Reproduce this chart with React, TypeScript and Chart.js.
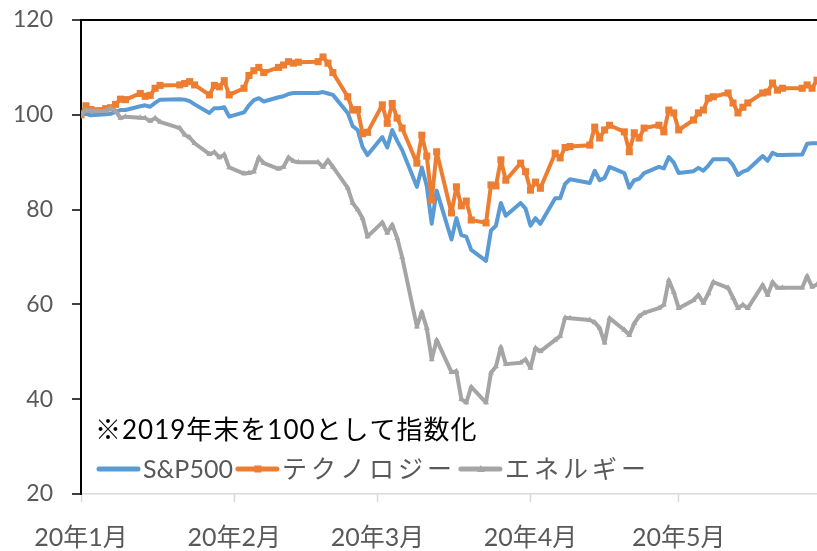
import React, { useEffect, useRef } from "react";
import { Chart, registerables } from "chart.js";
Chart.register(...registerables);

// Day offsets from 2020-01-01 (trading days); first point = 2019 year-end base
const tradingDays = [0,
  1, 2, 5, 6, 7, 8, 9, 12, 13, 14, 15, 16, 20, 21, 22, 23, 26, 27, 28, 29, 30,
  33, 34, 35, 36, 37, 40, 41, 42, 43, 44, 48, 49, 50, 51, 54, 55, 56, 57, 58,
  61, 62, 63, 64, 65, 68, 69, 70, 71, 72, 75, 76, 77, 78, 79, 82, 83, 84, 85, 86, 89, 90,
  91, 92, 93, 96, 97, 98, 99, 103, 104, 105, 106, 107, 110, 111, 112, 113, 114, 117, 118, 119, 120,
  121, 124, 125, 126, 127, 128, 131, 132, 133, 134, 135, 138, 139, 140, 141, 142, 146, 147, 148, 149];

const sp500 = [100,
  100.2, 99.9, 100.1, 100.2, 100.6, 101.0, 101.0, 101.8, 102.0, 101.7, 102.5, 103.2, 103.3, 103.2, 102.9, 102.2, 100.4, 101.4, 101.4, 101.6, 99.6,
  100.5, 102.0, 103.1, 103.5, 102.8, 103.7, 103.9, 104.4, 104.6, 104.6, 104.6, 104.8, 104.5, 104.2, 100.4, 97.6, 96.8, 93.2, 91.5,
  95.3, 93.1, 96.8, 94.5, 92.6, 84.8, 88.9, 85.0, 77.0, 84.0, 73.7, 78.2, 74.6, 74.3, 71.5, 69.2, 75.6, 76.6, 81.4, 78.7, 81.4, 80.2,
  76.6, 78.2, 77.0, 82.4, 82.4, 85.4, 86.4, 85.6, 88.2, 86.2, 86.7, 89.0, 87.7, 84.6, 86.2, 86.5, 87.7, 89.0, 88.7, 91.1, 89.9,
  87.7, 88.1, 88.8, 88.2, 89.3, 90.6, 90.6, 89.4, 87.3, 88.0, 88.4, 91.3, 90.3, 92.0, 91.5, 91.5, 91.6, 93.9, 94.0, 94.0];

const technology = [100,
  101.9, 101.1, 101.3, 101.5, 102.2, 103.3, 103.2, 104.5, 103.9, 104.1, 105.6, 106.2, 106.3, 106.6, 107.0, 106.3, 104.2, 106.2, 105.9, 107.2, 104.2,
  105.6, 108.3, 109.3, 110.0, 108.9, 110.0, 110.5, 111.2, 110.9, 111.1, 111.2, 112.2, 110.9, 108.9, 103.8, 101.0, 101.1, 96.0, 96.3,
  102.1, 98.2, 102.4, 99.3, 97.2, 89.8, 95.7, 91.3, 82.0, 92.2, 79.3, 84.8, 80.8, 81.8, 77.8, 77.2, 85.2, 85.0, 90.5, 86.2, 89.8, 88.0,
  84.1, 85.8, 84.5, 91.9, 90.9, 93.1, 93.3, 93.6, 97.4, 95.1, 96.8, 97.8, 96.4, 92.2, 96.2, 95.1, 97.2, 97.8, 96.4, 101.0, 100.4,
  96.8, 98.9, 100.4, 101.0, 103.5, 103.8, 104.6, 102.5, 100.4, 101.6, 102.5, 104.6, 104.8, 106.7, 105.2, 105.6, 105.6, 106.3, 105.6, 107.3];

const energy = [100,
  101.0, 100.8, 100.8, 101.4, 100.8, 99.3, 99.6, 99.4, 99.3, 98.7, 99.3, 98.5, 97.2, 95.8, 95.2, 94.0, 91.7, 92.1, 91.0, 91.6, 88.9,
  87.6, 87.7, 88.0, 91.0, 89.8, 88.6, 89.0, 91.0, 90.2, 90.0, 90.0, 89.0, 90.4, 89.0, 84.6, 81.4, 80.0, 78.2, 74.3,
  77.3, 75.1, 76.8, 74.0, 70.0, 55.3, 58.4, 55.0, 48.4, 52.5, 45.7, 45.9, 40.0, 39.3, 42.6, 39.3, 45.6, 46.9, 51.0, 47.4, 47.7, 48.4,
  46.6, 50.8, 50.1, 52.5, 53.3, 57.2, 57.1, 56.7, 56.2, 55.0, 51.9, 57.1, 54.6, 53.5, 56.0, 57.5, 58.2, 59.2, 59.9, 65.1, 62.6,
  59.2, 60.9, 62.0, 60.3, 62.3, 64.7, 63.5, 61.4, 59.2, 59.9, 59.2, 64.1, 62.0, 64.7, 63.5, 63.5, 63.5, 66.0, 63.7, 64.2];

const monthTickDays = [0, 31, 60, 91, 121];
const monthLabels = ["20年1月", "20年2月", "20年3月", "20年4月", "20年5月"];
const seriesNames = ["S&P500", "テクノロジー", "エネルギー"];
const noteText = "※2019年末を100として指数化";

const COLORS = ["#5B9BD5", "#ED7D31", "#A5A5A5"];
const LATIN = "Lato, 'Noto Sans CJK JP', sans-serif";
const LEGEND_SPACING = [0, 4, 4];

const overlayPlugin = {
  id: "overlay",
  afterDraw(chart: any) {
    const { ctx, chartArea } = chart;
    ctx.save();
    // note text
    ctx.font = `26px ${LATIN}`;
    (ctx as any).letterSpacing = "1px";
    ctx.fillStyle = "#000000";
    ctx.textBaseline = "middle";
    ctx.textAlign = "left";
    ctx.fillText(noteText, chartArea.left + 14, 431);

    // legend
    ctx.font = `25px ${LATIN}`;
    let x = chartArea.left + 16;
    const y = 469;
    chart.data.datasets.forEach((ds: any, i: number) => {
      ctx.strokeStyle = ds.borderColor;
      ctx.lineWidth = 5;
      ctx.lineCap = "round";
      ctx.beginPath();
      ctx.moveTo(x + 2, y);
      ctx.lineTo(x + 41, y);
      ctx.stroke();
      const cx = x + 22;
      ctx.fillStyle = ds.borderColor;
      if (ds.pointStyle === "rect") {
        ctx.fillRect(cx - 3.5, y - 3.5, 7, 7);
      } else if (ds.pointStyle === "triangle") {
        ctx.beginPath();
        ctx.moveTo(cx, y - 4);
        ctx.lineTo(cx + 4, y + 3);
        ctx.lineTo(cx - 4, y + 3);
        ctx.closePath();
        ctx.fill();
      }
      (ctx as any).letterSpacing = `${LEGEND_SPACING[i]}px`;
      ctx.fillStyle = "#595959";
      const tx = x + 46;
      ctx.fillText(ds.label, tx, y + 1);
      const w = ctx.measureText(ds.label).width;
      x = tx + w + 3;
    });
    ctx.restore();
  },
};

export default function App() {
  const ref = useRef<HTMLCanvasElement | null>(null);
  useEffect(() => {
    const canvas = ref.current;
    if (!canvas) return;
    const mk = (vals: number[]) => tradingDays.map((d, i) => ({ x: d, y: vals[i] }));
    const chart = new Chart(canvas, {
      type: "line",
      data: {
        datasets: [
          {
            label: seriesNames[0],
            data: mk(sp500),
            borderColor: COLORS[0],
            backgroundColor: COLORS[0],
            borderWidth: 4,
            pointRadius: 0,
            tension: 0,
            order: 3,
            borderJoinStyle: "round",
            borderCapStyle: "round",
          },
          {
            label: seriesNames[1],
            data: mk(technology),
            borderColor: COLORS[1],
            backgroundColor: COLORS[1],
            borderWidth: 4,
            pointStyle: "rect",
            pointRadius: 5,
            pointBorderWidth: 0,
            pointBackgroundColor: COLORS[1],
            tension: 0,
            order: 2,
            borderJoinStyle: "round",
            borderCapStyle: "round",
          },
          {
            label: seriesNames[2],
            data: mk(energy),
            borderColor: COLORS[2],
            backgroundColor: COLORS[2],
            borderWidth: 4,
            pointStyle: "triangle",
            pointRadius: 3.5,
            pointBorderWidth: 0,
            pointBackgroundColor: COLORS[2],
            tension: 0,
            order: 1,
            borderJoinStyle: "round",
            borderCapStyle: "round",
          },
        ] as any,
      },
      options: {
        animation: false,
        responsive: false,
        devicePixelRatio: 1,
        layout: { autoPadding: false, padding: { top: 20, right: 0, left: 0, bottom: 0 } },
        plugins: {
          legend: { display: false },
          tooltip: { enabled: false },
        },
        scales: {
          x: {
            type: "linear",
            min: 0,
            max: 149,
            afterBuildTicks: (scale: any) => {
              scale.ticks = monthTickDays.map((v) => ({ value: v }));
            },
            afterFit: (scale: any) => {
              scale.height = 57;
              scale.paddingLeft = 0;
              scale.paddingRight = 0;
            },
            ticks: {
              autoSkip: false,
              maxRotation: 0,
              minRotation: 0,
              padding: 21,
              color: "#595959",
              font: { size: 25, family: LATIN },
              callback: (v: any) => monthLabels[monthTickDays.indexOf(Number(v))] ?? "",
            },
            grid: {
              drawOnChartArea: false,
              drawTicks: true,
              tickLength: 8,
              tickColor: "#D9D9D9",
              tickWidth: 1.5,
              color: "#D9D9D9",
            },
            border: { display: true, color: "#D9D9D9", width: 1.5 },
          },
          y: {
            min: 20,
            max: 120,
            afterFit: (scale: any) => {
              scale.width = 81;
              scale.paddingTop = 0;
              scale.paddingBottom = 0;
            },
            ticks: {
              stepSize: 20,
              padding: 19,
              color: "#595959",
              font: { size: 23, family: LATIN },
            },
            grid: {
              drawTicks: true,
              tickLength: 9,
              tickColor: "#000000",
              tickWidth: 1.5,
              lineWidth: 2,
              color: (c: any) => (c.tick && c.tick.value === 120 ? "#000000" : "rgba(0,0,0,0)"),
            },
            border: { display: true, color: "#000000", width: 2 },
          },
        },
      },
      plugins: [overlayPlugin],
    });
    return () => chart.destroy();
  }, []);
  return (
    <div style={{ position: "fixed", left: 0, top: 0, width: 817, height: 551, background: "#fff" }}>
      <canvas ref={ref} width={817} height={551} style={{ display: "block" }} />
    </div>
  );
}
